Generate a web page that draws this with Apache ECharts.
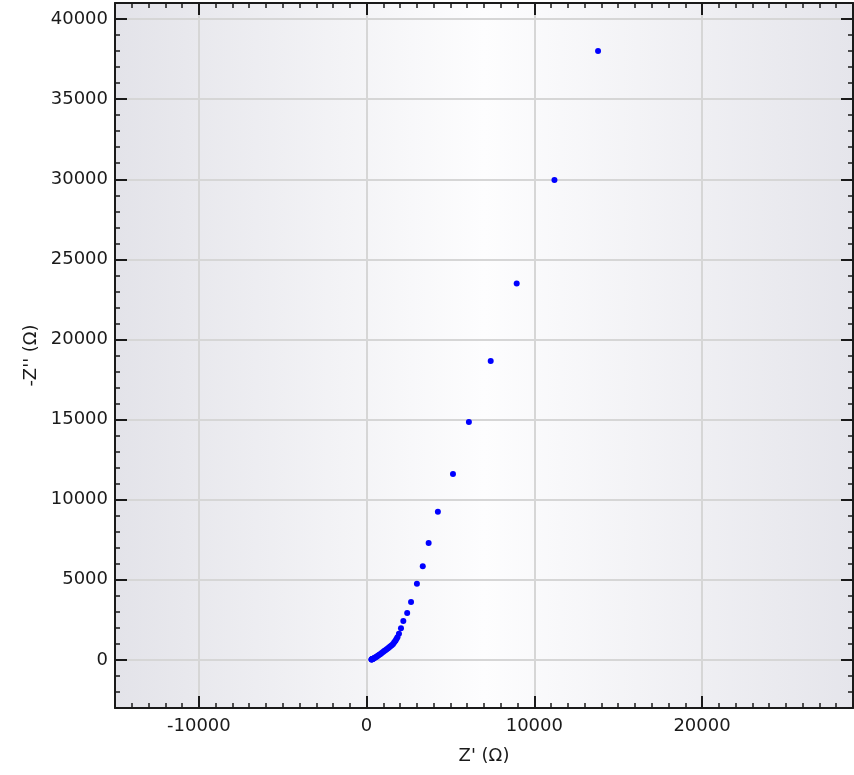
<!DOCTYPE html>
<html><head><meta charset="utf-8">
<script src="https://cdn.jsdelivr.net/npm/echarts@6/dist/echarts.min.js"></script>
<style>html,body{margin:0;padding:0;background:#fff}#c{width:854px;height:775px}</style>
</head><body><div id="c"></div>
<script>
// Axis ranges and tick labels
const xRange = [-15000, 29000];
const yRange = [-3000, 41000];
const xMajorTicks = [-10000, 0, 10000, 20000];
const yMajorTicks = [0, 5000, 10000, 15000, 20000, 25000, 30000, 35000, 40000];
const xTitle = "Z' (\u03A9)";
const yTitle = "-Z'' (\u03A9)";

// Data: Z' (real) and -Z'' (imaginary) in ohms
const zReal = [13800, 11200, 8950, 7400, 6100, 5150, 4250, 3700, 3350, 3000,
  2650, 2420, 2190, 2050, 1930, 1840, 1780, 1720, 1650, 1580, 1500, 1420, 1350, 1280,
  1200, 1120, 1050, 980, 900, 830, 760, 690, 630, 570, 510, 460, 420, 380, 350, 330, 310, 300, 290];
const zImagNeg = [38000, 29950, 23500, 18650, 14850, 11600, 9250, 7300, 5850, 4750,
  3610, 2930, 2430, 1970, 1640, 1420, 1300, 1200, 1100, 1000, 920, 850, 790, 730,
  670, 610, 550, 490, 430, 370, 320, 270, 225, 185, 150, 120, 95, 75, 60, 50, 40, 30, 20];

const points = zReal.map((x, i) => [x, zImagNeg[i]]);

const FONT = 'DejaVu Sans';
const INK = '#1a1a1a';
const GRIDCOL = '#d6d6d6';
const gridBox = {left: 115, top: 3, right: 1, bottom: 67};

function minorAxis(gridIndex, position, extent, labels, name, nameGap) {
  const a = {
    type: 'value', gridIndex, position, min: extent[0], max: extent[1], interval: 1000,
    axisLine: {show: true, onZero: false, lineStyle: {color: INK, width: 2}},
    axisTick: {show: true, inside: true, length: 5, lineStyle: {color: INK, width: 1.5}},
    axisLabel: {show: false},
    splitLine: {show: false}
  };
  if (labels) {
    a.axisLabel = {show: true, customValues: labels, fontFamily: FONT, fontSize: 18, color: INK,
      margin: position === 'left' ? 7 : 9, formatter: v => String(v)};
  }
  if (name) {
    a.name = name; a.nameLocation = 'middle'; a.nameGap = nameGap;
    a.nameTextStyle = {fontFamily: FONT, fontSize: 18, color: INK};
  }
  return a;
}
function majorAxis(gridIndex, position, extent, majors, split) {
  return {
    type: 'value', gridIndex, position, min: extent[0], max: extent[1],
    axisLine: {show: false, onZero: false},
    axisTick: {show: true, inside: true, length: 12, customValues: majors, lineStyle: {color: INK, width: 2}},
    axisLabel: {show: false},
    splitLine: {show: split, lineStyle: {color: GRIDCOL, width: 2}}
  };
}

const chart = echarts.init(document.getElementById('c'), null, {renderer: 'canvas'});
chart.setOption({
  animation: false,
  backgroundColor: '#ffffff',
  grid: [
    Object.assign({show: true, borderWidth: 0, backgroundColor: {
      type: 'linear', x: 0, y: 0, x2: 1, y2: 0,
      colorStops: [{offset: 0, color: '#e3e3e9'}, {offset: 0.5, color: '#fdfdfe'}, {offset: 1, color: '#e5e5eb'}]
    }}, gridBox),
    Object.assign({show: false}, gridBox)
  ],
  xAxis: [
    minorAxis(0, 'bottom', xRange, xMajorTicks, xTitle, 39),
    minorAxis(0, 'top', xRange, null, null, 0),
    majorAxis(1, 'bottom', xRange, xMajorTicks, true),
    majorAxis(1, 'top', xRange, xMajorTicks, false)
  ],
  yAxis: [
    minorAxis(0, 'left', yRange, yMajorTicks, yTitle, 67),
    minorAxis(0, 'right', yRange, null, null, 0),
    majorAxis(1, 'left', yRange, yMajorTicks, true),
    majorAxis(1, 'right', yRange, yMajorTicks, false)
  ],
  series: [
    {type: 'scatter', xAxisIndex: 0, yAxisIndex: 0, data: points, symbolSize: 6,
      itemStyle: {color: '#0000ff', opacity: 1}, z: 10, silent: true},
    {type: 'scatter', xAxisIndex: 2, yAxisIndex: 2, data: [], silent: true}
  ]
});
</script></body></html>
